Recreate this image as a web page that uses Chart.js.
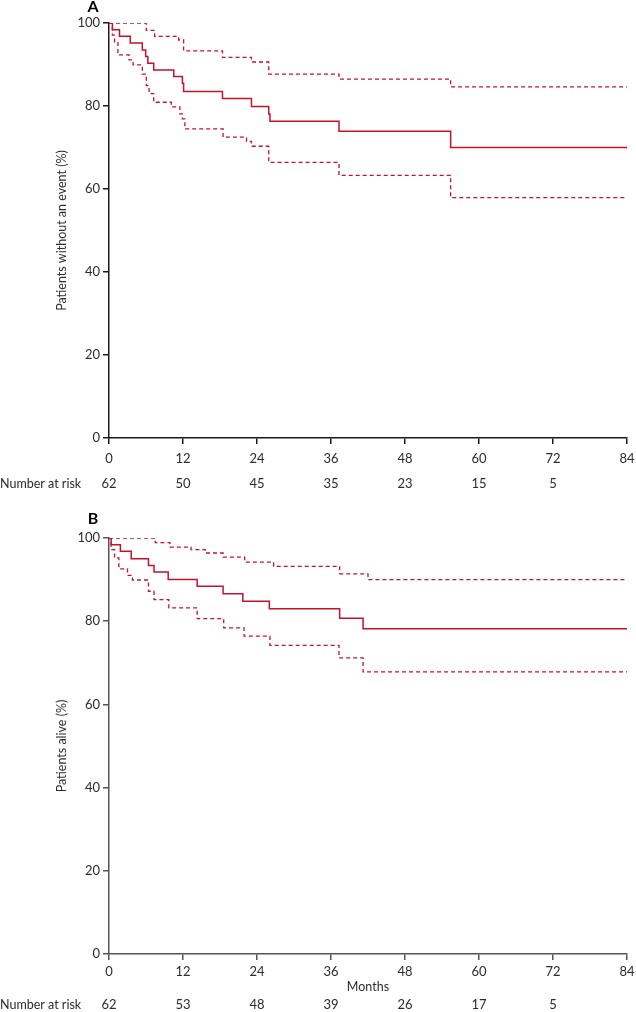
<!DOCTYPE html>
<html>
<head>
<meta charset="utf-8">
<script src="https://cdn.jsdelivr.net/npm/chart.js@4.4.1/dist/chart.umd.min.js"></script>
<style>
  html, body { margin: 0; padding: 0; background: #fff; }
  #wrap { position: relative; width: 636px; height: 1012px; }
  canvas { position: absolute; left: 0; }
  #chartA { top: 0; }
  #chartB { top: 500px; }
</style>
</head>
<body>
<div id="wrap">
  <canvas id="chartA" width="636" height="500"></canvas>
  <canvas id="chartB" width="636" height="512"></canvas>
</div>
<script>
// x axis ticks (months) and number-at-risk rows
const monthTicks = [0, 12, 24, 36, 48, 60, 72, 84]
const riskMonths = [0, 12, 24, 36, 48, 60, 72]
const riskA = [62, 50, 45, 35, 23, 15, 5]
const riskB = [62, 53, 48, 39, 26, 17, 5]

// Panel A - patients without an event (%)
const aTime = [0, 0.55, 1.7, 3.45, 5.4, 5.95, 6.3, 7.25, 10.5, 11.9, 12.1, 18.4, 23.1, 25.9, 26.1, 37.3, 55.4, 84]
const aSurv = [100, 98.4, 96.8, 95.2, 93.5, 91.9, 90.3, 88.7, 87.1, 85.5, 83.5, 81.8, 79.9, 78.1, 76.3, 73.9, 70.0, 70.0]
const aUpperTime = [0, 6.05, 7.4, 11.3, 12.1, 18.4, 23.1, 25.9, 37.3, 55.4, 84]
const aUpper = [100, 98.2, 96.8, 95.9, 93.3, 91.7, 90.6, 87.7, 86.5, 84.6, 84.6]
const aLowerTime = [0, 0.55, 0.9, 1.45, 3.25, 3.9, 5.4, 6.05, 6.5, 7.25, 10.1, 11.5, 11.9, 12.3, 18.5, 22.3, 23.1, 25.9, 37.3, 55.4, 84]
const aLower = [100, 97.1, 95.3, 92.3, 91.1, 89.9, 87.7, 84.9, 83.0, 80.9, 79.8, 78.1, 76.9, 74.5, 72.5, 71.5, 70.3, 66.4, 63.3, 57.9, 57.9]

// Panel B - patients alive (%)
const bTime = [0, 0.35, 1.85, 3.6, 6.4, 7.3, 9.6, 14.3, 18.5, 21.7, 26.0, 37.4, 41.2, 84]
const bSurv = [100, 98.4, 96.8, 95.0, 93.4, 91.8, 90.0, 88.4, 86.6, 84.8, 83.0, 80.7, 78.2, 78.2]
const bUpperTime = [0, 7.5, 9.9, 13.3, 15.6, 18.5, 22.0, 26.7, 37.4, 42.0, 84]
const bUpper = [100, 98.9, 97.8, 97.2, 96.4, 95.4, 94.2, 93.2, 91.4, 90.0, 90.0]
const bLowerTime = [0, 0.35, 0.9, 1.6, 3.0, 3.8, 6.4, 7.3, 9.7, 14.3, 18.6, 21.9, 26.1, 37.3, 41.2, 84]
const bLower = [100, 97.2, 95.2, 92.6, 91.0, 89.9, 87.2, 85.2, 83.2, 80.6, 78.4, 76.4, 74.2, 71.2, 67.8, 67.8]

const red = '#c4122f'
const textColor = '#2b2b2b'
const fontFamily = 'Lato, "Liberation Sans", sans-serif'

function toPoints(xs, ys) {
  return xs.map((x, i) => ({x: x, y: ys[i]}))
}

function stepLine(xs, ys, dashed) {
  return {
    data: toPoints(xs, ys),
    borderColor: red,
    borderWidth: dashed ? 1.3 : 1.5,
    borderDash: dashed ? [4, 3] : [],
    stepped: true,
    pointRadius: 0,
    fill: false
  }
}

// draws the panel letter and the number-at-risk row
const riskPlugin = {
  id: 'riskRow',
  afterDraw(chart, args, opts) {
    const ctx = chart.ctx
    const x = chart.scales.x
    ctx.save()
    ctx.fillStyle = '#000'
    ctx.font = 'bold 16px ' + fontFamily
    ctx.textAlign = 'center'
    ctx.textBaseline = 'middle'
    ctx.fillText(opts.letter, 93, opts.letterY)

    ctx.fillStyle = textColor
    ctx.font = '12.5px ' + fontFamily
    ctx.textAlign = 'left'
    ctx.fillText('Number at risk', 0, opts.rowY)
    ctx.font = '13px ' + fontFamily
    ctx.textAlign = 'center'
    opts.months.forEach((m, i) => {
      ctx.fillText(String(opts.counts[i]), x.getPixelForValue(m), opts.rowY)
    })
    ctx.restore()
  }
}

function makeChart(id, cfg) {
  return new Chart(document.getElementById(id), {
    type: 'line',
    data: {
      datasets: [
        stepLine(cfg.upperT, cfg.upper, true),
        stepLine(cfg.lowerT, cfg.lower, true),
        stepLine(cfg.t, cfg.s, false)
      ]
    },
    plugins: [riskPlugin],
    options: {
      responsive: false,
      animation: false,
      layout: {padding: {top: cfg.top, right: 9, left: 0, bottom: 0}},
      plugins: {
        legend: {display: false},
        tooltip: {enabled: false},
        riskRow: {letter: cfg.letter, letterY: cfg.letterY, rowY: cfg.rowY, months: riskMonths, counts: cfg.risk}
      },
      scales: {
        x: {
          type: 'linear',
          min: 0,
          max: 84,
          afterBuildTicks: (scale) => { scale.ticks = monthTicks.map(v => ({value: v})) },
          afterFit: (scale) => {
            scale.height = cfg.xHeight
            scale.paddingLeft = 0
            scale.paddingRight = 0
          },
          border: {display: true, color: cfg.axisColor, width: 1.5},
          grid: {drawOnChartArea: false, drawTicks: true, tickLength: 6, color: cfg.axisColor, lineWidth: 1.5},
          ticks: {color: textColor, font: {family: fontFamily, size: 13}, padding: cfg.xTickPad, maxRotation: 0, autoSkip: false},
          title: {
            display: !!cfg.xTitle,
            text: cfg.xTitle || '',
            color: textColor,
            font: {family: fontFamily, size: 12.5},
            padding: {top: 0, bottom: 18}
          }
        },
        y: {
          min: 0,
          max: 100,
          afterFit: (scale) => { scale.width = 109 },
          border: {display: true, color: cfg.axisColor, width: 1.5},
          grid: {drawOnChartArea: false, drawTicks: true, tickLength: 6, color: cfg.axisColor, lineWidth: 1.5},
          ticks: {stepSize: 20, color: textColor, font: {family: fontFamily, size: 13}, padding: 3},
          title: {
            display: true,
            text: cfg.yTitle,
            color: textColor,
            font: {family: fontFamily, size: 12.5},
            padding: {top: 54, bottom: 0}
          }
        }
      }
    }
  })
}

makeChart('chartA', {
  t: aTime, s: aSurv, upperT: aUpperTime, upper: aUpper, lowerT: aLowerTime, lower: aLower,
  risk: riskA, letter: 'A', letterY: 7, rowY: 484, top: 23, xHeight: 62, xTickPad: 7,
  axisColor: '#1a1a1a', yTitle: 'Patients without an event (%)'
})

makeChart('chartB', {
  t: bTime, s: bSurv, upperT: bUpperTime, upper: bUpper, lowerT: bLowerTime, lower: bLower,
  risk: riskB, letter: 'B', letterY: 19, rowY: 505, top: 38, xHeight: 58, xTickPad: 4,
  axisColor: '#555', yTitle: 'Patients alive (%)', xTitle: 'Months'
})
</script>
</body>
</html>
